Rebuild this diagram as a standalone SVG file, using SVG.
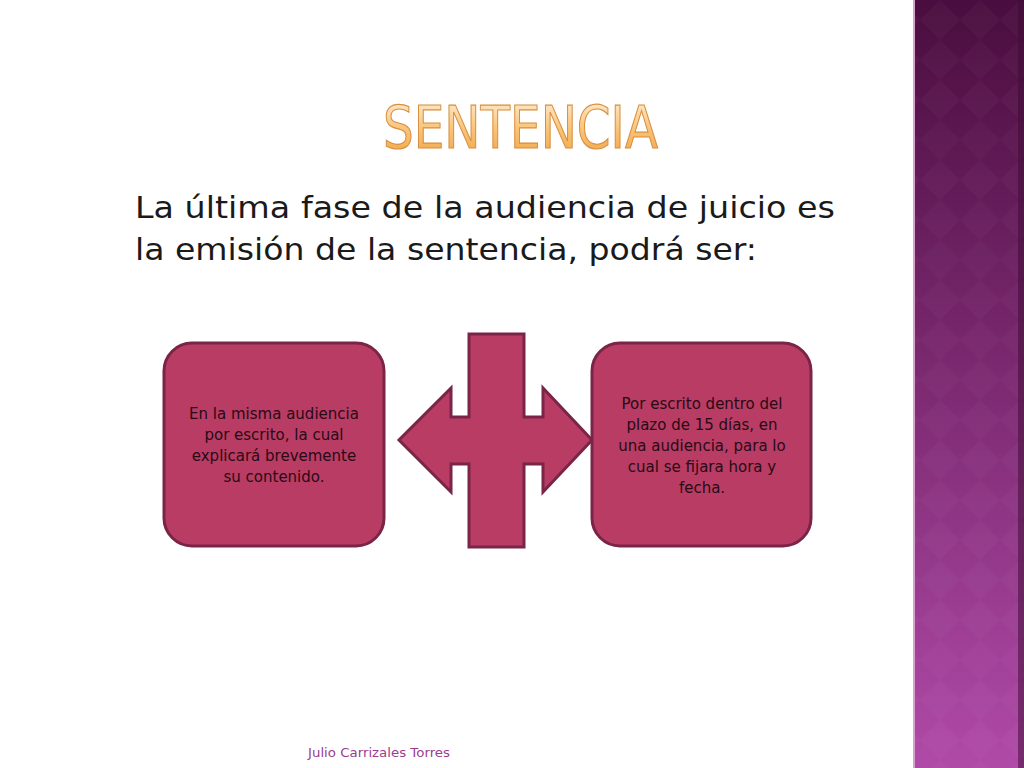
<svg xmlns="http://www.w3.org/2000/svg" width="1024" height="768" viewBox="0 0 1024 768">
<defs>
<linearGradient id="band" x1="0" y1="0" x2="0" y2="1">
<stop offset="0" stop-color="#4a0d3f"/>
<stop offset="0.5" stop-color="#7d2a72"/>
<stop offset="1" stop-color="#b04aa8"/>
</linearGradient>
<linearGradient id="title" x1="0" y1="0" x2="0" y2="1">
<stop offset="0" stop-color="#fff1dc"/>
<stop offset="0.5" stop-color="#f9c57a"/>
<stop offset="1" stop-color="#f0a040"/>
</linearGradient>
<pattern id="diam" width="40" height="40" patternUnits="userSpaceOnUse">
<path d="M20 0 L40 20 L20 40 L0 20 Z" fill="#ffffff" fill-opacity="0.025"/>
</pattern>
</defs>
<style>
.shape{fill:#b83c64;stroke:#7a2447;stroke-width:3}
.box{font-family:"DejaVu Sans",sans-serif;font-size:15px;fill:#2a0a14;text-anchor:middle}
.body{font-family:"DejaVu Sans",sans-serif;font-size:30px;fill:#1a1a1a}
</style>
<rect width="1024" height="768" fill="#ffffff"/>
<g id="band-group">
<rect x="913" y="0" width="111" height="768" fill="url(#band)"/>
<rect x="913" y="0" width="111" height="768" fill="url(#diam)"/>
<rect x="913" y="0" width="2" height="768" fill="#d8a0d0"/>
<rect x="1018" y="0" width="6" height="768" fill="#3a0a30" fill-opacity="0.5"/>
</g>
<text x="383" y="148" font-family="'DejaVu Sans',sans-serif" font-size="58" textLength="275" lengthAdjust="spacingAndGlyphs" fill="url(#title)" stroke="#d89040" stroke-width="1.2">SENTENCIA</text>
<text class="body" x="135" y="218" textLength="700" lengthAdjust="spacingAndGlyphs">La última fase de la audiencia de juicio es</text>
<text class="body" x="135" y="260" textLength="622" lengthAdjust="spacingAndGlyphs">la emisión de la sentencia, podrá ser:</text>
<g id="arrow">
<path class="shape" d="M469 334 L524 334 L524 417 L543 417 L543 388 L592 440 L543 492 L543 464 L524 464 L524 547 L469 547 L469 464 L451 464 L451 492 L399 440 L451 388 L451 417 L469 417 Z"/>
</g>
<g id="node-left">
<rect class="shape" x="164" y="343" width="220" height="203" rx="28"/>
<text class="box" x="274" y="419">En la misma audiencia</text>
<text class="box" x="274" y="440">por escrito, la cual</text>
<text class="box" x="274" y="461">explicará brevemente</text>
<text class="box" x="274" y="482">su contenido.</text>
</g>
<g id="node-right">
<rect class="shape" x="592" y="343" width="219" height="203" rx="28"/>
<text class="box" x="702" y="409">Por escrito dentro del</text>
<text class="box" x="702" y="430">plazo de 15 días, en</text>
<text class="box" x="702" y="451">una audiencia, para lo</text>
<text class="box" x="702" y="472">cual se fijara hora y</text>
<text class="box" x="702" y="493">fecha.</text>
</g>
<g id="connectors"/>
<text x="308" y="757" font-family="'DejaVu Sans',sans-serif" font-size="12" fill="#9a3d8f" textLength="142" lengthAdjust="spacingAndGlyphs">Julio Carrizales Torres</text>
</svg>
